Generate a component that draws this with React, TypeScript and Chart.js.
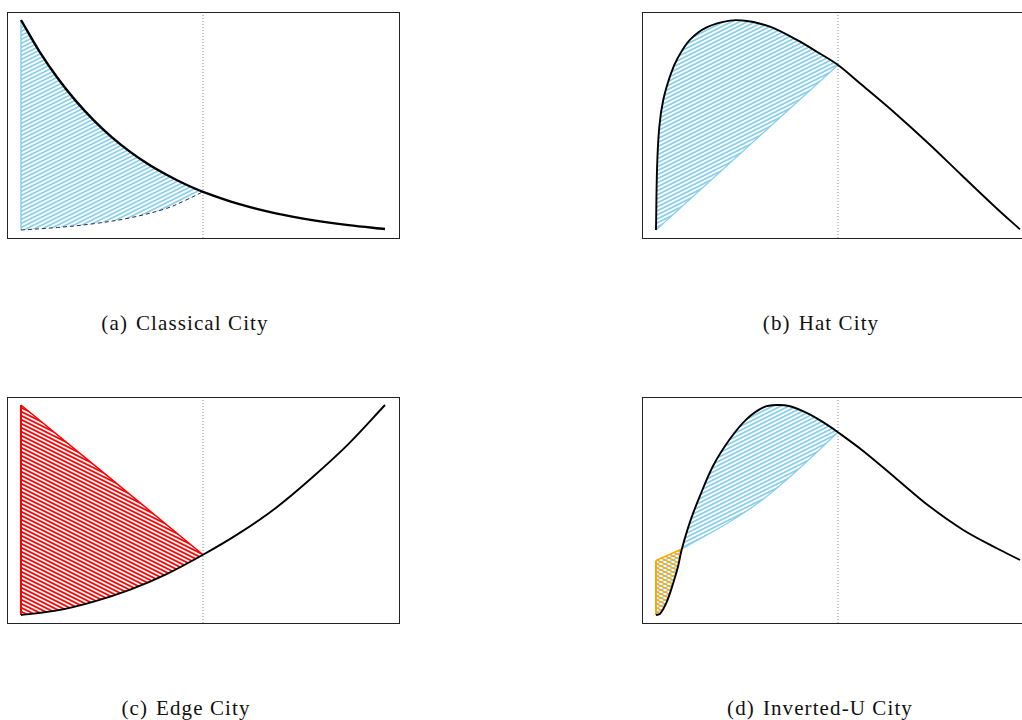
import React, { useEffect, useRef } from 'react';
import { Chart, registerables } from 'chart.js';

Chart.register(...registerables);

// ---------- data (x in [0,1] = distance, y in [0,1]) ----------
// (a) Classical City
const classicalX = [0, 0.05, 0.1, 0.15, 0.2, 0.25, 0.3, 0.35, 0.4, 0.45, 0.5, 0.6, 0.7, 0.8, 0.9, 1.0];
const classicalY = [1, 0.852, 0.725, 0.616, 0.522, 0.441, 0.372, 0.313, 0.263, 0.219, 0.182, 0.123, 0.079, 0.047, 0.023, 0.005];
const classicalLowX = [0, 0.1, 0.2, 0.3, 0.4, 0.45, 0.5];
const classicalLowY = [0, 0.012, 0.03, 0.058, 0.103, 0.14, 0.182];

// (b) Hat City
const hatX = [0, 0.003, 0.009, 0.02, 0.04, 0.06, 0.093, 0.139, 0.203, 0.25, 0.313, 0.387, 0.442, 0.5, 0.566, 0.657, 0.748, 0.839, 0.931, 1.0];
const hatY = [0, 0.3, 0.49, 0.62, 0.74, 0.82, 0.905, 0.965, 0.997, 0.995, 0.968, 0.905, 0.849, 0.786, 0.69, 0.556, 0.413, 0.262, 0.111, 0.003];
const hatLowX = [0, 0.5];
const hatLowY = [0, 0.786];

// (c) Edge City
const edgeX = [0, 0.1, 0.2, 0.3, 0.4, 0.5, 0.6, 0.7, 0.8, 0.9, 1.0];
const edgeY = [0, 0.022, 0.064, 0.121, 0.195, 0.287, 0.39, 0.51, 0.655, 0.815, 1.0];
const edgeHighX = [0, 0.25, 0.5];
const edgeHighY = [1, 0.645, 0.287];

// (d) Inverted-U City
const invX = [0, 0.011, 0.029, 0.048, 0.061, 0.071, 0.093, 0.121, 0.157, 0.203, 0.249, 0.295, 0.332, 0.368, 0.414, 0.46, 0.5, 0.57, 0.661, 0.753, 0.844, 0.936, 1.0];
const invY = [0, 0.005, 0.06, 0.156, 0.235, 0.314, 0.441, 0.568, 0.711, 0.838, 0.933, 0.989, 1.0, 0.994, 0.962, 0.917, 0.87, 0.78, 0.648, 0.515, 0.405, 0.318, 0.262];
const invLowX = [0.071, 0.203, 0.295, 0.387, 0.5];
const invLowY = [0.314, 0.444, 0.552, 0.687, 0.87];
const invOrangeX = [0, 0.071];
const invOrangeY = [0.26, 0.314];

const boundaryX = 0.5;
const captions = ['(a)', 'Classical City', '(b)', 'Hat City', '(c)', 'Edge City', '(d)', 'Inverted-U City'];

// ---------- styling ----------
const X_MIN = -14 / 364;
const X_MAX = 1 + 14 / 364;
const Y_MIN = -8 / 210;
const Y_MAX = 1 + 8 / 210;

const BLUE = '#87CEEB';
const RED = '#FF0000';
const ORANGE = '#FFA500';
const TENSION = 0.35;

const pts = (xs: number[], ys: number[]) => xs.map((x, i) => ({ x, y: ys[i] }));

type HatchLine = { color: string; dir: 1 | -1; width: number };
function makeHatch(lines: HatchLine[]): CanvasPattern | string {
  const W = 8, H = 4;
  const c = document.createElement('canvas');
  c.width = W; c.height = H;
  const ctx = c.getContext('2d');
  if (!ctx) return lines[0].color;
  for (const l of lines) {
    ctx.strokeStyle = l.color;
    ctx.lineWidth = l.width;
    for (let k = -3; k <= 3; k++) {
      ctx.beginPath();
      if (l.dir === 1) {
        ctx.moveTo(-W, 2 * H + k * H);
        ctx.lineTo(2 * W, -H + k * H);
      } else {
        ctx.moveTo(-W, -H + k * H);
        ctx.lineTo(2 * W, 2 * H + k * H);
      }
      ctx.stroke();
    }
  }
  return ctx.createPattern(c, 'repeat') || lines[0].color;
}

const framePlugin = {
  id: 'frame',
  afterDraw(chart: any) {
    const { ctx, chartArea } = chart;
    ctx.save();
    ctx.strokeStyle = '#222';
    ctx.lineWidth = 1;
    ctx.strokeRect(chartArea.left + 0.5, chartArea.top + 0.5, chartArea.right - chartArea.left, chartArea.bottom - chartArea.top);
    ctx.restore();
  },
};

const curve = (xs: number[], ys: number[], width = 1.9) => ({
  data: pts(xs, ys),
  borderColor: '#000',
  borderWidth: width,
  tension: TENSION,
  fill: false,
});

const dotted = () => ({
  data: [{ x: boundaryX, y: Y_MIN }, { x: boundaryX, y: Y_MAX }],
  borderColor: '#888',
  borderWidth: 1,
  borderDash: [1, 2],
  tension: 0,
  fill: false,
});

function buildDatasets(panel: number): any[] {
  const blueHatch = makeHatch([{ color: BLUE, dir: 1, width: 1.6 }]);
  if (panel === 0) {
    return [
      curve(classicalX, classicalY, 2.4),
      {
        data: pts(classicalLowX, classicalLowY),
        borderColor: '#2a2a3a',
        borderWidth: 1,
        borderDash: [4, 3],
        tension: TENSION,
        fill: '-1',
        backgroundColor: blueHatch,
      },
      {
        data: [{ x: classicalLowX[0], y: classicalLowY[0] }, { x: classicalX[0], y: classicalY[0] }],
        borderColor: BLUE,
        borderWidth: 1.5,
        tension: 0,
        fill: false,
      },
      dotted(),
    ];
  }
  if (panel === 1) {
    return [
      curve(hatX, hatY, 1.9),
      {
        data: pts(hatLowX, hatLowY),
        borderColor: BLUE,
        borderWidth: 1.2,
        tension: 0,
        fill: '-1',
        backgroundColor: blueHatch,
      },
      dotted(),
    ];
  }
  if (panel === 2) {
    const redHatch = makeHatch([{ color: RED, dir: -1, width: 1.8 }]);
    return [
      curve(edgeX, edgeY, 1.9),
      {
        data: pts(edgeHighX, edgeHighY),
        borderColor: RED,
        borderWidth: 1.5,
        tension: 0,
        fill: '-1',
        backgroundColor: redHatch,
      },
      {
        data: [{ x: edgeX[0], y: edgeY[0] }, { x: edgeHighX[0], y: edgeHighY[0] }],
        borderColor: RED,
        borderWidth: 2,
        tension: 0,
        fill: false,
      },
      dotted(),
    ];
  }
  const crossHatch = makeHatch([
    { color: BLUE, dir: 1, width: 1.2 },
    { color: ORANGE, dir: -1, width: 1.5 },
  ]);
  return [
    curve(invX, invY, 1.9),
    {
      data: pts(invLowX, invLowY),
      borderColor: BLUE,
      borderWidth: 1.2,
      tension: TENSION,
      fill: '-1',
      backgroundColor: blueHatch,
    },
    {
      data: pts(invOrangeX, invOrangeY),
      borderColor: ORANGE,
      borderWidth: 1.5,
      tension: 0,
      fill: '-2',
      backgroundColor: crossHatch,
    },
    {
      data: [{ x: invX[0], y: invY[0] }, { x: invOrangeX[0], y: invOrangeY[0] }],
      borderColor: ORANGE,
      borderWidth: 2,
      tension: 0,
      fill: false,
    },
    dotted(),
  ];
}

function Panel({ panel, left, top }: { panel: number; left: number; top: number }) {
  const ref = useRef<HTMLCanvasElement | null>(null);
  useEffect(() => {
    if (!ref.current) return;
    const chart = new Chart(ref.current, {
      type: 'line',
      data: { datasets: buildDatasets(panel) },
      options: {
        animation: false,
        responsive: false,
        events: [],
        layout: { padding: 1, autoPadding: false } as any,
        elements: { point: { radius: 0, hoverRadius: 0 } },
        plugins: { legend: { display: false }, tooltip: { enabled: false }, title: { display: false } },
        scales: {
          x: { type: 'linear', display: false, min: X_MIN, max: X_MAX },
          y: { type: 'linear', display: false, min: Y_MIN, max: Y_MAX },
        },
      } as any,
      plugins: [framePlugin],
    } as any);
    return () => chart.destroy();
  }, [panel]);
  return (
    <canvas
      ref={ref}
      width={394}
      height={228}
      style={{ position: 'absolute', left, top, width: 394, height: 228, display: 'block' }}
    />
  );
}

function Caption({ label, text, cx, cy }: { label: string; text: string; cx: number; cy: number }) {
  return (
    <div
      style={{
        position: 'absolute',
        left: cx,
        top: cy,
        transform: 'translate(-50%, -50%)',
        whiteSpace: 'nowrap',
        fontFamily: '"Liberation Serif", serif',
        fontSize: 21,
        letterSpacing: 1.1,
        color: '#111',
        lineHeight: 1,
      }}
    >
      <span style={{ marginRight: 8 }}>{label}</span>
      <span>{text}</span>
    </div>
  );
}

export default function App() {
  return (
    <div style={{ position: 'absolute', left: 0, top: 0, width: 1022, height: 720, overflow: 'hidden', background: '#fff' }}>
      <Panel panel={0} left={6} top={11} />
      <Panel panel={1} left={641} top={11} />
      <Panel panel={2} left={6} top={396} />
      <Panel panel={3} left={641} top={396} />
      <Caption label={captions[0]} text={captions[1]} cx={185} cy={323} />
      <Caption label={captions[2]} text={captions[3]} cx={821} cy={323} />
      <Caption label={captions[4]} text={captions[5]} cx={186} cy={708} />
      <Caption label={captions[6]} text={captions[7]} cx={820} cy={708} />
    </div>
  );
}
